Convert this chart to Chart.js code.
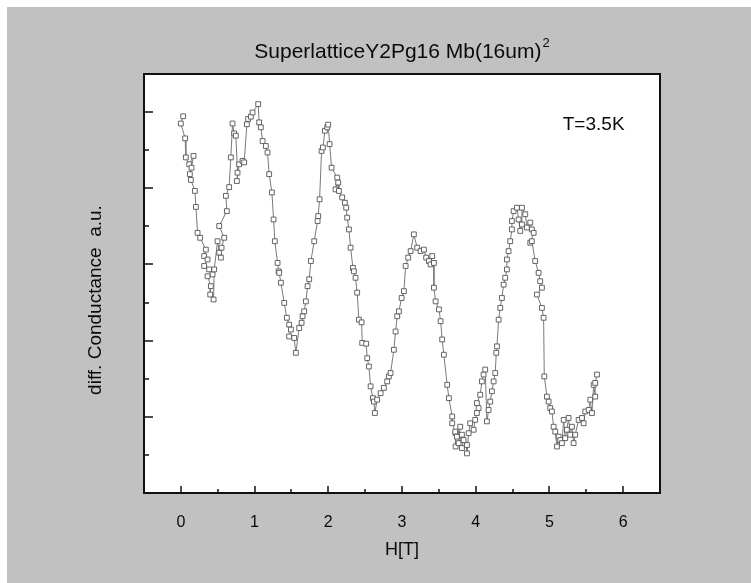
<!DOCTYPE html>
<html>
<head>
<meta charset="utf-8">
<script src="https://cdn.jsdelivr.net/npm/chart.js@4.4.0/dist/chart.umd.min.js"></script>
<style>
html, body { margin: 0; padding: 0; background: #ffffff; }
</style>
</head>
<body>
<canvas id="graphCanvas" width="751" height="583"></canvas>
<script>
// H[T] - campo
var campoH = [
  0.031, 0.000, 0.058, 0.068, 0.113, 0.172, 0.145, 0.122, 0.136, 0.190,
  0.204, 0.227, 0.262, 0.339, 0.316, 0.362, 0.316, 0.384, 0.430, 0.362,
  0.407, 0.398, 0.444, 0.452, 0.498, 0.520, 0.543, 0.552, 0.588, 0.520,
  0.624, 0.611, 0.655, 0.678, 0.701, 0.723, 0.746, 0.769, 0.760, 0.791,
  0.837, 0.859, 0.896, 0.913, 0.950, 0.973, 1.049, 1.062, 1.085, 1.109,
  1.153, 1.176, 1.198, 1.235, 1.258, 1.275, 1.312, 1.326, 1.334, 1.357,
  1.402, 1.438, 1.469, 1.493, 1.469, 1.537, 1.560, 1.605, 1.638, 1.651,
  1.673, 1.696, 1.719, 1.741, 1.764, 1.809, 1.855, 1.863, 1.882, 1.909,
  1.927, 1.954, 1.985, 1.999, 2.018, 2.045, 2.121, 2.099, 2.134, 2.144,
  2.189, 2.225, 2.243, 2.256, 2.280, 2.303, 2.334, 2.347, 2.370, 2.392,
  2.415, 2.452, 2.460, 2.514, 2.528, 2.551, 2.574, 2.605, 2.619, 2.632,
  2.663, 2.710, 2.754, 2.799, 2.822, 2.845, 2.890, 2.913, 2.935, 2.958,
  2.995, 3.026, 3.049, 3.084, 3.117, 3.161, 3.206, 3.252, 3.297, 3.328,
  3.365, 3.410, 3.388, 3.433, 3.433, 3.456, 3.501, 3.524, 3.545, 3.568,
  3.613, 3.636, 3.681, 3.681, 3.727, 3.727, 3.722, 3.745, 3.790, 3.768,
  3.813, 3.836, 3.813, 3.881, 3.881, 3.904, 3.925, 3.972, 3.993, 4.016,
  4.039, 4.016, 4.061, 4.084, 4.107, 4.129, 4.152, 4.175, 4.197, 4.220,
  4.243, 4.265, 4.279, 4.288, 4.311, 4.333, 4.355, 4.379, 4.400, 4.423,
  4.423, 4.446, 4.468, 4.491, 4.491, 4.514, 4.559, 4.582, 4.604, 4.627,
  4.627, 4.672, 4.695, 4.740, 4.762, 4.786, 4.740, 4.762, 4.807, 4.853,
  4.875, 4.898, 4.830, 4.898, 4.921, 4.930, 4.966, 4.989, 5.011, 5.034,
  5.057, 5.079, 5.102, 5.125, 5.146, 5.170, 5.193, 5.214, 5.237, 5.260,
  5.282, 5.305, 5.328, 5.350, 5.396, 5.441, 5.464, 5.486, 5.532, 5.554,
  5.577, 5.600, 5.621, 5.621, 5.645
];

// diff. Conductance (a.u.)
var conductancia = [
  9.89, 9.70, 9.31, 8.81, 8.63, 8.85, 8.54, 8.37, 8.22, 7.93,
  7.51, 6.83, 6.70, 6.39, 6.22, 6.13, 5.96, 5.87, 5.74, 5.69,
  5.43, 5.21, 5.08, 5.87, 6.61, 6.31, 6.18, 6.44, 6.70, 7.01,
  7.40, 7.80, 8.03, 8.81, 9.70, 9.44, 9.38, 8.41, 8.19, 8.63,
  8.72, 8.68, 9.68, 9.82, 9.88, 9.99, 10.21, 9.73, 9.60, 9.24,
  9.11, 8.94, 8.37, 7.89, 7.18, 6.61, 6.04, 5.82, 5.78, 5.52,
  4.99, 4.60, 4.42, 4.29, 4.11, 4.07, 3.68, 4.33, 4.47, 4.64,
  4.77, 5.03, 5.43, 5.61, 6.09, 6.61, 7.14, 7.27, 7.71, 8.98,
  9.07, 9.51, 9.60, 9.67, 9.16, 8.54, 8.28, 7.97, 8.15, 7.93,
  7.76, 7.62, 7.49, 7.23, 6.92, 6.44, 5.91, 5.82, 5.65, 5.26,
  4.55, 4.48, 3.94, 3.92, 3.54, 3.32, 2.80, 2.49, 2.40, 2.10,
  2.45, 2.62, 2.76, 2.93, 3.06, 3.15, 3.76, 4.24, 4.64, 4.77,
  5.12, 5.30, 5.96, 6.18, 6.35, 6.79, 6.44, 6.35, 6.39, 6.18,
  6.09, 6.22, 6.00, 6.04, 5.39, 5.03, 4.82, 4.51, 4.03, 3.63,
  2.84, 2.49, 2.01, 1.83, 1.57, 1.22, 1.61, 1.48, 1.74, 1.31,
  1.53, 1.39, 1.18, 1.26, 1.04, 1.57, 1.83, 1.66, 1.92, 2.10,
  2.23, 2.36, 2.58, 2.93, 3.11, 3.24, 1.88, 2.18, 2.40, 2.67,
  2.93, 3.15, 3.68, 3.85, 4.55, 4.86, 5.12, 5.47, 5.65, 5.87,
  6.13, 6.35, 6.61, 6.92, 7.14, 7.40, 7.49, 7.18, 6.88, 7.05,
  7.49, 7.32, 6.97, 7.10, 6.92, 6.83, 6.57, 6.61, 6.09, 5.78,
  5.56, 5.39, 5.21, 4.86, 4.60, 3.06, 2.53, 2.40, 2.23, 2.14,
  1.74, 1.61, 1.22, 1.48, 1.39, 1.31, 1.92, 1.44, 1.66, 1.97,
  1.53, 1.74, 1.31, 1.53, 1.92, 1.97, 1.83, 2.14, 2.18, 2.45,
  2.10, 2.84, 2.53, 2.89, 3.11
];

var ticksX = [0, 1, 2, 3, 4, 5, 6];
var ticksXmenor = [0.5, 1.5, 2.5, 3.5, 4.5, 5.5];
var ticksY = [2, 4, 6, 8, 10];
var ticksYmenor = [1, 3, 5, 7, 9];

var titulo = 'SuperlatticeY2Pg16 Mb(16um)';
var tituloExp = '2';
var etiquetaY = 'diff. Conductance  a.u.';
var etiquetaTemp = 'T=3.5K';
var posTemp = [5.6, 9.68];

var fuente = '"Liberation Sans", Arial, sans-serif';

var puntos = [];
for (var i = 0; i < campoH.length; i++) {
    puntos.push({x: campoH[i], y: conductancia[i]});
}

// fondo gris, marco, ticks hacia dentro, textos
var marco = {
    id: 'marco',
    beforeDraw: function (chart) {
        var ctx = chart.ctx;
        var a = chart.chartArea;
        ctx.save();
        ctx.fillStyle = '#c1c1c1';
        ctx.fillRect(7, 7, chart.width - 7, chart.height - 7);
        ctx.fillStyle = '#ffffff';
        ctx.fillRect(a.left, a.top, a.right - a.left, a.bottom - a.top);
        ctx.restore();
    },
    afterDatasetsDraw: function (chart) {
        var ctx = chart.ctx;
        var a = chart.chartArea;
        var sx = chart.scales.x;
        var sy = chart.scales.y;
        ctx.save();
        ctx.strokeStyle = '#111111';
        ctx.lineWidth = 1.5;
        ctx.beginPath();
        for (var i = 0; i < ticksX.length; i++) {
            var px = Math.round(sx.getPixelForValue(ticksX[i]));
            ctx.moveTo(px, a.bottom); ctx.lineTo(px, a.bottom - 7);
        }
        for (var i = 0; i < ticksXmenor.length; i++) {
            var px = Math.round(sx.getPixelForValue(ticksXmenor[i]));
            ctx.moveTo(px, a.bottom); ctx.lineTo(px, a.bottom - 4);
        }
        for (var i = 0; i < ticksY.length; i++) {
            var py = Math.round(sy.getPixelForValue(ticksY[i]));
            ctx.moveTo(a.left, py); ctx.lineTo(a.left + 9, py);
        }
        for (var i = 0; i < ticksYmenor.length; i++) {
            var py = Math.round(sy.getPixelForValue(ticksYmenor[i]));
            ctx.moveTo(a.left, py); ctx.lineTo(a.left + 5, py);
        }
        ctx.stroke();
        ctx.lineWidth = 2;
        ctx.strokeRect(a.left, a.top, a.right - a.left, a.bottom - a.top);

        ctx.fillStyle = '#0a0a0a';

        // T=3.5K
        ctx.font = '19px ' + fuente;
        ctx.textAlign = 'center';
        ctx.textBaseline = 'middle';
        ctx.fillText(etiquetaTemp, sx.getPixelForValue(posTemp[0]), sy.getPixelForValue(posTemp[1]));

        // eje y
        ctx.save();
        ctx.translate(96, 300);
        ctx.rotate(-Math.PI / 2);
        ctx.font = '19px ' + fuente;
        ctx.fillText(etiquetaY, 0, 0);
        ctx.restore();

        // titulo con superindice
        ctx.font = '21px ' + fuente;
        var w1 = ctx.measureText(titulo).width;
        ctx.font = '13px ' + fuente;
        var w2 = ctx.measureText(tituloExp).width;
        var x0 = (a.left + a.right) / 2 - (w1 + w2 + 1) / 2;
        ctx.textAlign = 'left';
        ctx.textBaseline = 'alphabetic';
        ctx.font = '21px ' + fuente;
        ctx.fillText(titulo, x0, 58);
        ctx.font = '13px ' + fuente;
        ctx.fillText(tituloExp, x0 + w1 + 1, 47);
        ctx.restore();
    }
};

var graphTarget = document.getElementById('graphCanvas');

window.grafica = new Chart(graphTarget, {
    type: 'line',
    data: {
        datasets: [{
            label: 'diff. Conductance',
            data: puntos,
            borderColor: '#7a7a7a',
            borderWidth: 1,
            backgroundColor: '#ffffff',
            pointStyle: 'rect',
            pointRadius: 3.4,
            pointBorderColor: '#555555',
            pointBorderWidth: 0.9,
            pointBackgroundColor: '#ffffff',
            tension: 0
        }]
    },
    options: {
        responsive: false,
        animation: false,
        layout: { padding: { left: 84, top: 74, right: 91, bottom: 20 } },
        plugins: {
            legend: { display: false },
            tooltip: { enabled: false },
            title: { display: false }
        },
        scales: {
            x: {
                type: 'linear',
                min: -0.5,
                max: 6.5,
                afterFit: function (scale) { scale.height = 70; },
                afterBuildTicks: function (scale) {
                    scale.ticks = ticksX.map(function (v) { return {value: v}; });
                },
                grid: { display: false, drawTicks: false },
                border: { display: false },
                ticks: {
                    padding: 20,
                    color: '#0a0a0a',
                    font: { family: fuente, size: 16 }
                },
                title: {
                    display: true,
                    text: 'H[T]',
                    color: '#0a0a0a',
                    padding: { top: 0, bottom: 2 },
                    font: { family: fuente, size: 18 }
                }
            },
            y: {
                min: 0,
                max: 11,
                afterFit: function (scale) { scale.width = 60; },
                grid: { display: false, drawTicks: false },
                border: { display: false },
                ticks: { display: false },
                title: { display: false }
            }
        }
    },
    plugins: [marco]
});
</script>
</body>
</html>
